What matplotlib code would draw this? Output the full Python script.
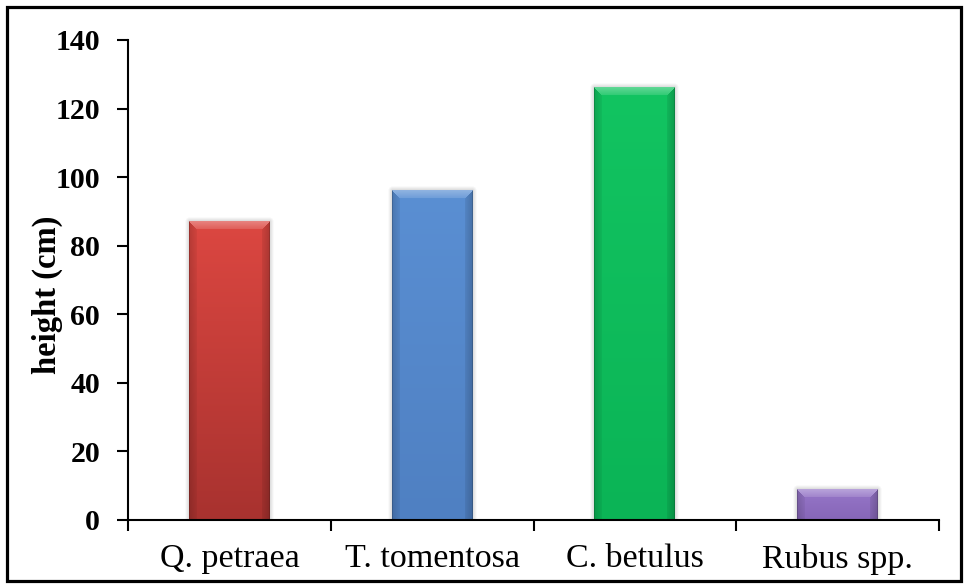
import numpy as np
import matplotlib
matplotlib.use("Agg")
import matplotlib.pyplot as plt
from matplotlib.patches import Rectangle
from matplotlib.colors import to_rgb

# Mean seedling height per species
species = ["Q. petraea", "T. tomentosa", "C. betulus", "Rubus spp."]
height_cm = [87, 96, 126, 9]
y_ticks = [0, 20, 40, 60, 80, 100, 120, 140]

# Face colours (top, bottom) for the bevelled bars
top_colors = ["#dc4741", "#5a8fd3", "#12c461", "#9676c8"]
bottom_colors = ["#a8322f", "#4f80c2", "#0bb456", "#8766b8"]

plt.rcParams["font.family"] = ["Liberation Serif", "DejaVu Serif"]

W_PX, H_PX, DPI = 967, 587, 100
fig = plt.figure(figsize=(W_PX / DPI, H_PX / DPI), dpi=DPI)
ax = fig.add_axes([128 / W_PX, 1 - 520 / H_PX, (939 - 128) / W_PX, (520 - 40) / H_PX])

x = np.arange(len(species))
bars = ax.bar(x, height_cm, width=0.4, color=top_colors, zorder=1)

ax.set_xlim(-0.5, len(species) - 0.5)
ax.set_ylim(0, 140)
ax.set_yticks(y_ticks)
ax.set_yticklabels([str(v) for v in y_ticks], fontsize=21.5, fontweight="bold")

# category boundaries carry the tick marks, labels sit between them
ax.set_xticks(np.arange(-0.5, len(species)), minor=False)
ax.set_xticklabels([])
ax.set_xticks(x, minor=True)
ax.set_xticklabels(species, minor=True, fontsize=24.5)
ax.tick_params(axis="x", which="minor", length=0, pad=17)
ax.tick_params(axis="x", which="major", direction="out", length=8, width=1.5)
ax.tick_params(axis="y", direction="out", length=8, width=1.5, pad=12)

for side in ("top", "right"):
    ax.spines[side].set_visible(False)
for side in ("left", "bottom"):
    ax.spines[side].set_linewidth(1.5)
    ax.spines[side].set_zorder(5)

ax.set_ylabel("height (cm)", fontsize=23.5, fontweight="bold")
ax.yaxis.set_label_coords(-0.08, 0.469)

# Bevelled fill with a soft drop shadow, painted over each bar's own extent
fig.canvas.draw()
to_px = ax.transData
from_px = ax.transData.inverted()
pad = 4
bev = 8
for bar, ctop, cbot in zip(bars, top_colors, bottom_colors):
    x0, y0 = bar.get_x(), bar.get_y()
    x1, y1 = x0 + bar.get_width(), y0 + bar.get_height()
    (px0, py0), (px1, py1) = to_px.transform([(x0, y0), (x1, y1)])
    w = int(round(px1 - px0))
    h = int(round(py1 - py0))
    if w < 2 or h < 2:
        continue
    W = w + 2 * pad
    H = h + pad
    img = np.zeros((H, W, 4))
    # shadow halo
    jj, ii = np.meshgrid(np.arange(W), np.arange(H))
    dx = np.maximum(np.maximum(pad - jj, jj - (pad + w - 1)), 0)
    dy = np.maximum(pad - ii, 0)
    dist = np.hypot(dx, dy)
    img[..., :3] = 0.55
    img[..., 3] = np.clip(0.35 * (1 - dist / (pad + 0.5)), 0, 1)
    # bar face
    ct = np.array(to_rgb(ctop))
    cb = np.array(to_rgb(cbot))
    t = np.linspace(0, 1, h)[:, None, None]
    face = ct * (1 - t) + cb * t
    face = np.repeat(face, w, axis=1)
    fj, fi = np.meshgrid(np.arange(w), np.arange(h))
    dl = fj.astype(float)
    dr = (w - 1 - fj).astype(float)
    dt = fi.astype(float)
    top_region = (dt < bev) & (dt <= dl) & (dt <= dr)
    left_region = (dl < bev) & (dl < dt) & (dl <= dr)
    right_region = (dr < bev) & (dr < dt) & (dr < dl)
    shade = np.ones((h, w))
    shade[left_region] = 0.84 + 0.12 * (dl[left_region] / bev)
    shade[right_region] = 0.80 + 0.14 * (dr[right_region] / bev)
    face = face * shade[..., None]
    lift = np.zeros((h, w))
    lift[top_region] = 0.32 - 0.2 * (dt[top_region] / bev)
    face = face + (1 - face) * lift[..., None]
    # thin darker rim on the outer edges
    rim = (dl < 1) | (dr < 1)
    face[rim] *= 0.85
    img[pad:, pad:pad + w, :3] = np.clip(face, 0, 1)
    img[pad:, pad:pad + w, 3] = 1.0
    (ex0, ey1) = from_px.transform((px0 - pad, py1 + pad))
    (ex1, ey0) = from_px.transform((px0 + w + pad, py0))
    ax.imshow(img, extent=(ex0, ex1, ey0, ey1), aspect="auto",
              interpolation="bilinear", zorder=2)
    bar.set_visible(False)

ax.set_xlim(-0.5, len(species) - 0.5)
ax.set_ylim(0, 140)

# outer frame round the whole chart
fig.patches.append(Rectangle((6.5 / W_PX, 6.5 / H_PX), 1 - 13 / W_PX, 1 - 13 / H_PX,
                             transform=fig.transFigure, fill=False,
                             edgecolor="black", linewidth=2.3))

fig.savefig("out.png", dpi=DPI)
